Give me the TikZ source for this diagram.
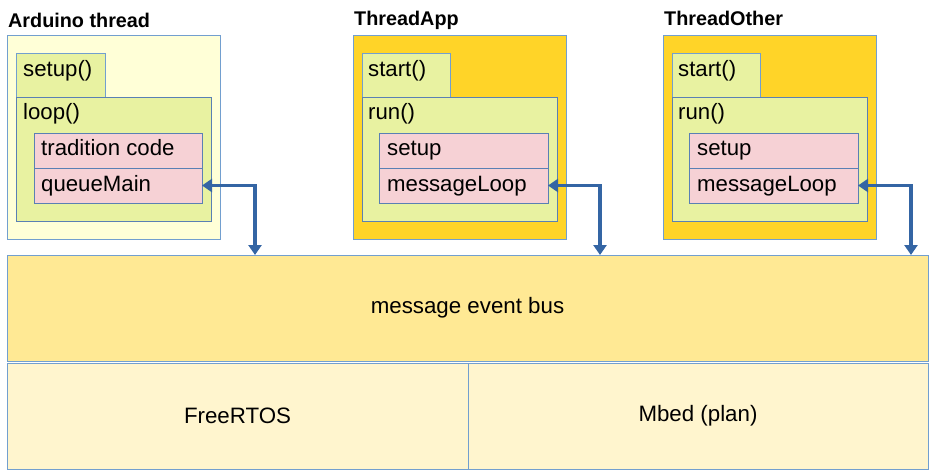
\documentclass[tikz,border=0pt]{standalone}
\usepackage{fontspec}
\setmainfont{Liberation Sans}
\usetikzlibrary{arrows.meta}
\definecolor{arduinoFill}{HTML}{FFFFD7}
\definecolor{greenFill}{HTML}{E8F2A1}
\definecolor{pinkFill}{HTML}{F6D1D5}
\definecolor{goldFill}{HTML}{FFD428}
\definecolor{busFill}{HTML}{FFE994}
\definecolor{osFill}{HTML}{FFF5CE}
\definecolor{borderLight}{HTML}{729FCF}
\definecolor{borderMid}{HTML}{5A80B4}
\definecolor{arrowBlue}{HTML}{3465A4}
\newcommand\mybox[6]{%
  \node[#6, anchor=north west, minimum width={(#4-#2)*1pt}, minimum height={(#5-#3)*1pt}] (#1) at (#2,#3) {};}
\tikzset{
  boxbase/.style={draw, inner sep=0pt, outer sep=0pt, line width=0.9pt},
  outerA/.style={boxbase, draw=borderLight, fill=arduinoFill},
  outerT/.style={boxbase, draw=borderLight, fill=goldFill},
  greenbox/.style={boxbase, draw=borderMid, fill=greenFill},
  greentab/.style={boxbase, draw=borderLight, fill=greenFill},
  pinkbox/.style={boxbase, draw=borderMid, fill=pinkFill},
  busbox/.style={boxbase, draw=borderLight, fill=busFill},
  osbox/.style={boxbase, draw=borderLight, fill=osFill},
  lbl/.style={inner sep=0pt, anchor=base west, font=\fontsize{22.2}{26}\selectfont},
  ttl/.style={inner sep=0pt, anchor=base west, font=\fontsize{19.8}{23}\selectfont\bfseries},
  ctr/.style={inner sep=0pt, font=\fontsize{22.3}{26}\selectfont},
  conn/.style={draw=arrowBlue, line width=3.4pt, {Triangle[length=10pt,width=13pt]}-{Triangle[length=10pt,width=13pt]}}
}
\begin{document}
\begin{tikzpicture}[x=1pt,y=-1pt]
\useasboundingbox (0,0) rectangle (936,475);
% bus and OS
\mybox{bus}{7}{255}{928}{361}{busbox}
\mybox{rtos}{7}{363}{468}{469}{osbox}
\mybox{mbed}{468}{363}{928}{469}{osbox}
\node[ctr] (busT) at (bus.center) {message event bus};
\node[ctr] (rtosT) at (rtos.center) {FreeRTOS};
\node[ctr] (mbedT) at (mbed.center) {Mbed (plan)};
% Arduino thread
\node[ttl] (tA) at (8,27) {Arduino thread};
\mybox{oA}{7}{35}{220}{239}{outerA}
\mybox{suA}{16}{53}{105}{97}{greentab}
\mybox{lpA}{16}{97}{211}{221}{greenbox}
\mybox{tcA}{34}{133}{202}{168}{pinkbox}
\mybox{qmA}{34}{168}{202}{203}{pinkbox}
\node[lbl] (suAT) at ([shift={(7,23)}]suA.north west) {setup()};
\node[lbl] (lpAT) at ([shift={(7,22)}]lpA.north west) {loop()};
\node[lbl] (tcAT) at ([shift={(7,22.5)}]tcA.north west) {tradition code};
\node[lbl] (qmAT) at ([shift={(7,23)}]qmA.north west) {queueMain};
% ThreadApp
\node[ttl] (tB) at (354,25) {ThreadApp};
\mybox{oB}{353}{35}{566}{239}{outerT}
\mybox{stB}{362}{53}{450}{97}{greentab}
\mybox{rnB}{362}{97}{557}{221}{greenbox}
\mybox{seB}{379}{133}{548}{168}{pinkbox}
\mybox{mlB}{379}{168}{548}{203}{pinkbox}
\node[lbl] (stBT) at ([shift={(6,23)}]stB.north west) {start()};
\node[lbl] (rnBT) at ([shift={(6,22)}]rnB.north west) {run()};
\node[lbl] (seBT) at ([shift={(8,22.5)}]seB.north west) {setup};
\node[lbl] (mlBT) at ([shift={(8,23)}]mlB.north west) {messageLoop};
% ThreadOther
\node[ttl] (tC) at (664,25) {ThreadOther};
\mybox{oC}{663}{35}{876}{239}{outerT}
\mybox{stC}{672}{53}{760}{97}{greentab}
\mybox{rnC}{672}{97}{867}{221}{greenbox}
\mybox{seC}{689}{133}{858}{168}{pinkbox}
\mybox{mlC}{689}{168}{858}{203}{pinkbox}
\node[lbl] (stCT) at ([shift={(6,23)}]stC.north west) {start()};
\node[lbl] (rnCT) at ([shift={(6,22)}]rnC.north west) {run()};
\node[lbl] (seCT) at ([shift={(8,22.5)}]seC.north west) {setup};
\node[lbl] (mlCT) at ([shift={(8,23)}]mlC.north west) {messageLoop};
% connectors
\coordinate (bA) at (255,255);
\coordinate (bB) at (600,255);
\coordinate (bC) at (911,255);
\draw[conn] (qmA.east) -| (bA);
\draw[conn] (mlB.east) -| (bB);
\draw[conn] (mlC.east) -| (bC);
\end{tikzpicture}
\end{document}
